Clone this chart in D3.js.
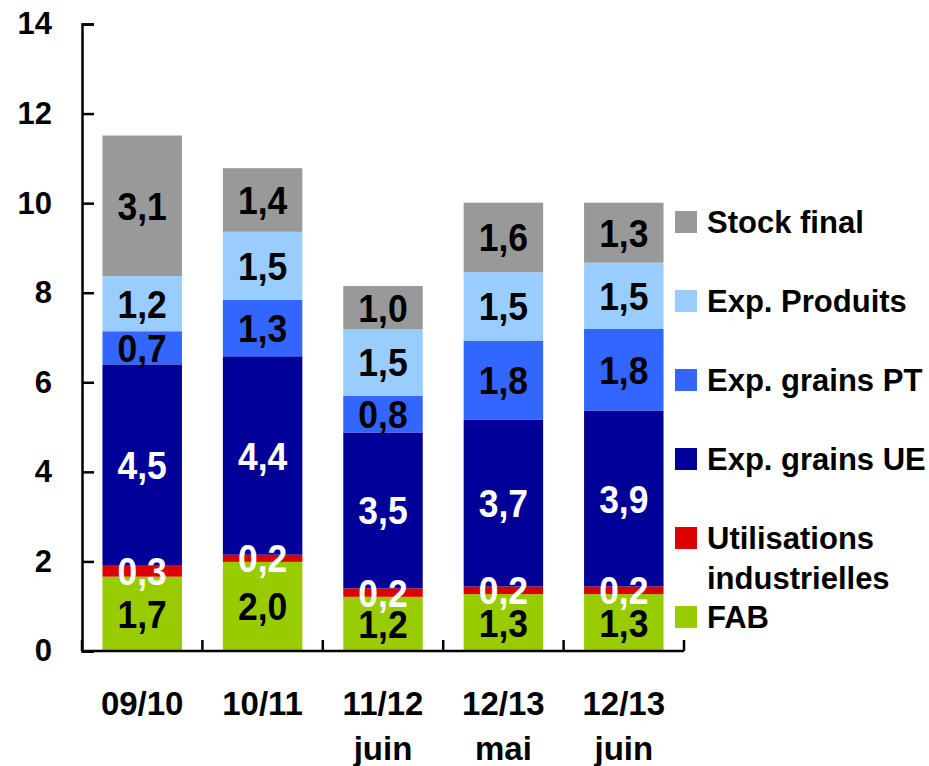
<!DOCTYPE html>
<html>
<head>
<meta charset="utf-8">
<script src="https://cdn.jsdelivr.net/npm/d3@7"></script>
<style>
  body { margin: 0; background: #fff; }
  svg text { font-family: Arial, "Liberation Sans", sans-serif; font-weight: bold; }
</style>
</head>
<body>
<svg class="chart" width="929" height="766"></svg>
<script>
var categories = [["09/10"], ["10/11"], ["11/12", "juin"], ["12/13", "mai"], ["12/13", "juin"]]
var seriesNames = ["FAB", "Utilisations industrielles", "Exp. grains UE", "Exp. grains PT", "Exp. Produits", "Stock final"]

// values, bottom to top
var fab = [1.66, 1.99, 1.21, 1.27, 1.27]
var utilisations = [0.26, 0.16, 0.19, 0.17, 0.17]
var grainsUE = [4.48, 4.43, 3.48, 3.73, 3.93]
var grainsPT = [0.74, 1.26, 0.82, 1.76, 1.82]
var produits = [1.23, 1.52, 1.49, 1.53, 1.48]
var stock = [3.14, 1.42, 0.96, 1.55, 1.34]

var yTicks = [0, 2, 4, 6, 8, 10, 12, 14]

var colors = ["#99CC00", "#DD0000", "#000099", "#3366FF", "#99CCFF", "#999999"]
var labelColors = ["#000", "#fff", "#fff", "#000", "#000", "#000"]

var allSeries = [fab, utilisations, grainsUE, grainsPT, produits, stock]
var keys = categories.map(function(c) { return c.join(" ") })

var rows = keys.map(function(k, i) {
  var row = { key: k }
  seriesNames.forEach(function(s, j) { row[s] = allSeries[j][i] })
  return row
})

var chart = d3.select(".chart")

var x = d3.scaleBand().domain(keys).range([82, 684])
  .paddingInner(0.34).paddingOuter(0.17)

var y = d3.scaleLinear().domain([0, 14]).range([651, 24])

var stacked = d3.stack().keys(seriesNames)(rows)

var layers = chart.selectAll(".layer")
    .data(stacked)
  .enter().append("g")
    .attr("class", "layer")
    .attr("fill", function(d, i) { return colors[i] })

layers.selectAll("rect")
    .data(function(d) { return d })
  .enter().append("rect")
    .attr("x", function(d) { return x(d.data.key) })
    .attr("width", x.bandwidth())
    .attr("y", function(d) { return y(d[1]) })
    .attr("height", function(d) { return y(d[0]) - y(d[1]) })

// value labels, centred on each segment (the original font is a bit narrow)
stacked.forEach(function(layer, i) {
  chart.append("g").selectAll("text")
      .data(layer)
    .enter().append("text")
      .attr("transform", function(d) {
        var cx = x(d.data.key) + x.bandwidth() / 2
        var cy = (y(d[0]) + y(d[1])) / 2
        return "translate(" + cx + "," + cy + ") scale(0.91,1)"
      })
      .attr("dy", "0.36em")
      .attr("text-anchor", "middle")
      .attr("fill", labelColors[i])
      .style("font-size", "39px")
      .text(function(d) { return (d[1] - d[0]).toFixed(1).replace(".", ",") })
})

// y axis
var yAxis = chart.append("g")
  .attr("transform", "translate(82,0)")
  .call(d3.axisLeft(y).tickValues(yTicks).tickSize(-12).tickPadding(30).tickFormat(d3.format("d")))

yAxis.select(".domain").attr("stroke", "#000").attr("stroke-width", 2.5)
yAxis.selectAll(".tick line").attr("stroke", "#000").attr("stroke-width", 2.5)
yAxis.selectAll(".tick text")
  .attr("fill", "#000")
  .style("font-size", "31px")
  .style("font-family", "Arial, 'Liberation Sans', sans-serif")
  .style("font-weight", "bold")

// x axis with ticks between categories
var gap = (x.step() - x.bandwidth()) / 2
var bounds = keys.map(function(k) { return x(k) - gap })
bounds.push(x(keys[keys.length - 1]) + x.bandwidth() + gap)

chart.append("line")
  .attr("x1", x.range()[0]).attr("x2", x.range()[1])
  .attr("y1", y(0)).attr("y2", y(0))
  .attr("stroke", "#000").attr("stroke-width", 2.5)

chart.selectAll(".xtick")
    .data(bounds)
  .enter().append("line")
    .attr("class", "xtick")
    .attr("x1", function(d) { return d }).attr("x2", function(d) { return d })
    .attr("y1", y(0)).attr("y2", y(0) - 11)
    .attr("stroke", "#000").attr("stroke-width", 2.5)

var xLabels = chart.selectAll(".xlabel")
    .data(categories)
  .enter().append("text")
    .attr("class", "xlabel")
    .attr("text-anchor", "middle")
    .style("font-size", "33px")

xLabels.selectAll("tspan")
    .data(function(d, i) { return d.map(function(t) { return { t: t, k: keys[i] } }) })
  .enter().append("tspan")
    .attr("x", function(d) { return x(d.k) + x.bandwidth() / 2 })
    .attr("y", function(d, j) { return 715 + j * 45 })
    .text(function(d) { return d.t })

// legend, top entry first
var legendItems = seriesNames.slice().reverse()
var legend = chart.selectAll(".legend")
    .data(legendItems)
  .enter().append("g")
    .attr("class", "legend")
    .attr("transform", function(d, i) { return "translate(675," + (222 + i * 79) + ")" })

legend.append("rect")
  .attr("x", 0).attr("y", -11)
  .attr("width", 22).attr("height", 22)
  .attr("fill", function(d) { return colors[seriesNames.indexOf(d)] })

legend.append("text")
  .attr("x", 32)
  .attr("y", 11)
  .style("font-size", "31px")
  .each(function(d) {
    var words = d == "Utilisations industrielles" ? ["Utilisations", "industrielles"] : [d]
    d3.select(this).selectAll("tspan")
        .data(words)
      .enter().append("tspan")
        .attr("x", 32)
        .attr("y", function(w, j) { return 11 + j * 40 })
        .text(function(w) { return w })
  })
</script>
</body>
</html>
